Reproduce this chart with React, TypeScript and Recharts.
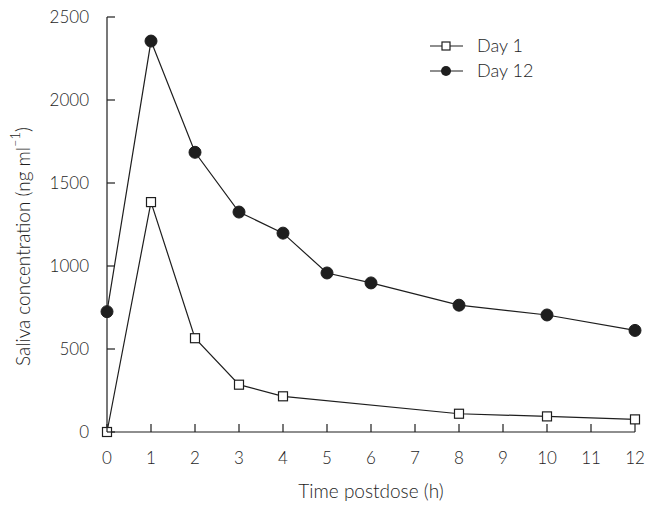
import React from "react";
import { LineChart, Line, XAxis, YAxis, Legend, Label } from "recharts";

const times = [0, 1, 2, 3, 4, 5, 6, 8, 10, 12];
const day1: (number | null)[] = [0, 1385, 565, 285, 215, null, null, 110, 94, 76];
const day12: (number | null)[] = [725, 2355, 1685, 1325, 1198, 958, 898, 764, 705, 612];
const xTicks = [0, 1, 2, 3, 4, 5, 6, 7, 8, 9, 10, 11, 12];
const yTicks = [0, 500, 1000, 1500, 2000, 2500];

const data = times.map((t, i) => ({ t, day1: day1[i], day12: day12[i] }));

const INK = "#1e1e1e";
const FONT = "Lato, 'Open Sans', sans-serif";
const WEIGHT = 300;
const Y_MARGIN = 18;
const X_MARGIN = 20;
const TICK_LEN = 8;

const YTick = (props: any) => {
  const { x, y, payload } = props;
  return (
    <g>
      <line x1={x + Y_MARGIN} x2={x + Y_MARGIN + TICK_LEN} y1={y} y2={y} stroke={INK} strokeWidth={1.2} />
      <text x={x} y={y} dy="0.36em" textAnchor="end" fontSize={17} fontWeight={WEIGHT} fontFamily={FONT} fill={INK}>
        {payload.value}
      </text>
    </g>
  );
};

const XTick = (props: any) => {
  const { x, y, payload } = props;
  return (
    <g>
      <line x1={x} x2={x} y1={y - X_MARGIN} y2={y - X_MARGIN - TICK_LEN} stroke={INK} strokeWidth={1.2} />
      <text x={x} y={y} dy="0.72em" textAnchor="middle" fontSize={17} fontWeight={WEIGHT} fontFamily={FONT} fill={INK}>
        {payload.value}
      </text>
    </g>
  );
};

const SquareDot = (props: any) => {
  const { cx, cy, value } = props;
  if (value === null || value === undefined || cx == null || cy == null) return <g />;
  return <rect x={cx - 4.5} y={cy - 4.5} width={9} height={9} fill="#fff" stroke={INK} strokeWidth={1.2} />;
};

const CircleDot = (props: any) => {
  const { cx, cy, value } = props;
  if (value === null || value === undefined || cx == null || cy == null) return <g />;
  return <circle cx={cx} cy={cy} r={6} fill={INK} stroke={INK} />;
};

const YLabel = (props: any) => {
  const { viewBox } = props;
  const cx = viewBox.x + 22;
  const cy = viewBox.y + viewBox.height / 2 + 22;
  return (
    <text
      x={cx}
      y={cy}
      transform={`rotate(-90, ${cx}, ${cy})`}
      textAnchor="middle"
      dominantBaseline="central"
      fontSize={19}
      fontWeight={WEIGHT}
      fontFamily={FONT}
      fill={INK}
    >
      Saliva concentration (ng ml
      <tspan dy={-7} fontSize={13}>–1</tspan>
      <tspan dy={7}>)</tspan>
    </text>
  );
};

const legendItems = [
  { key: "day1", label: "Day 1", shape: "square" },
  { key: "day12", label: "Day 12", shape: "circle" },
];

const LegendContent = () => (
  <svg width={140} height={60}>
    {legendItems.map((it, i) => {
      const y = 12 + i * 25;
      return (
        <g key={it.key}>
          <line x1={0} x2={33} y1={y} y2={y} stroke={INK} strokeWidth={1.2} />
          {it.shape === "square" ? (
            <rect x={12} y={y - 4} width={8} height={8} fill="#fff" stroke={INK} strokeWidth={1.2} />
          ) : (
            <circle cx={16} cy={y} r={5} fill={INK} />
          )}
          <text x={47} y={y} dy="0.36em" fontSize={18} fontWeight={WEIGHT} fontFamily={FONT} fill={INK}>
            {it.label}
          </text>
        </g>
      );
    })}
  </svg>
);

export default function App() {
  return (
    <div style={{ position: "absolute", left: 0, top: 0, background: "#fff" }}>
      <LineChart width={650} height={511} data={data} margin={{ top: 17, right: 15, bottom: 0, left: 0 }}>
        <XAxis
          dataKey="t"
          type="number"
          domain={[0, 12]}
          ticks={xTicks}
          interval={0}
          height={79}
          tickSize={0}
          tickMargin={X_MARGIN}
          tickLine={false}
          axisLine={{ stroke: INK, strokeWidth: 1.2 }}
          tick={<XTick />}
        >
          <Label value="Time postdose (h)" position="insideBottom" offset={13} fontSize={19} fontWeight={WEIGHT} fontFamily={FONT} fill={INK} />
        </XAxis>
        <YAxis
          type="number"
          domain={[0, 2500]}
          ticks={yTicks}
          interval={0}
          width={107}
          tickSize={0}
          tickMargin={Y_MARGIN}
          tickLine={false}
          axisLine={{ stroke: INK, strokeWidth: 1.2 }}
          tick={<YTick />}
        >
          <Label content={<YLabel />} />
        </YAxis>
        <Legend
          layout="vertical"
          verticalAlign="middle"
          align="center"
          content={<LegendContent />}
          wrapperStyle={{ position: "absolute", left: 430, top: 34, width: 140, height: 60 }}
        />
        <Line
          dataKey="day1"
          name="Day 1"
          type="linear"
          stroke={INK}
          strokeWidth={1.2}
          connectNulls
          dot={<SquareDot />}
          isAnimationActive={false}
        />
        <Line
          dataKey="day12"
          name="Day 12"
          type="linear"
          stroke={INK}
          strokeWidth={1.2}
          dot={<CircleDot />}
          isAnimationActive={false}
        />
      </LineChart>
    </div>
  );
}
